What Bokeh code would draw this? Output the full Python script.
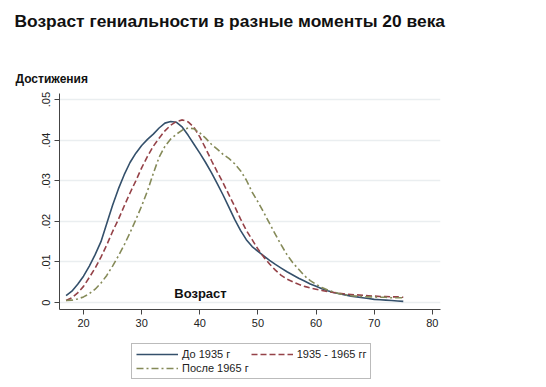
from bokeh.plotting import figure
from bokeh.layouts import column
from bokeh.models import Range1d, FixedTicker, Label, Legend, LegendItem, CustomJSTickFormatter
from bokeh.embed import file_html
from bokeh.resources import INLINE

ages = list(range(17, 76))
before_1935 = [.0017, .0028, .0045, .0065, .0090, .0118, .0150, .0195, .0240, .0280,
               .0315, .0345, .0368, .0387, .0402, .0415, .0430, .0442, .0446, .0444,
               .0432, .0412, .0390, .0368, .0345, .0320, .0293, .0265, .0235, .0205,
               .0178, .0155, .0138, .0126, .0115, .0104, .0094, .0085, .0076, .0068,
               .0060, .0053, .0046, .0040, .0034, .0029, .0025, .0022, .0019, .0016,
               .0014, .0012, .0010, .0008, .0007, .0006, .0005, .0004, .0003]
y1935_1965 = [.0005, .0012, .0024, .0040, .0062, .0085, .0112, .0142, .0175, .0205,
              .0238, .0270, .0300, .0332, .0360, .0385, .0405, .0423, .0437, .0446,
              .0450, .0445, .0432, .0408, .0380, .0350, .0322, .0295, .0266, .0237,
              .0206, .0178, .0155, .0132, .0112, .0095, .0080, .0067, .0058, .0051,
              .0045, .0040, .0036, .0033, .0030, .0027, .0025, .0023, .0021, .0020,
              .0019, .0018, .0017, .0016, .0015, .0015, .0014, .0014, .0013]
after_1965 = [.0005, .0006, .0009, .0014, .0022, .0033, .0048, .0067, .0090, .0115,
              .0142, .0172, .0204, .0238, .0275, .0318, .0358, .0385, .0403, .0415,
              .0425, .0430, .0428, .0418, .0405, .0390, .0378, .0365, .0355, .0342,
              .0325, .0302, .0272, .0248, .0222, .0195, .0168, .0142, .0118, .0098,
              .0082, .0066, .0054, .0045, .0037, .0031, .0026, .0022, .0019, .0017,
              .0016, .0015, .0014, .0014, .0013, .0013, .0012, .0012, .0012]

x_ticks = [20, 30, 40, 50, 60, 70, 80]
y_ticks = [0, 0.01, 0.02, 0.03, 0.04, 0.05]

series_names = ["До 1935 г", "1935 - 1965 гг", "После 1965 г"]
title_text = "Возраст гениальности в разные моменты 20 века"
y_title = "Достижения"
x_title = "Возраст"

FONT = "Liberation Sans"
W = 546
H_TOP, H_MAIN, H_LEG = 86, 249, 52
colors = ["#34506b", "#954248", "#858a58"]
dashes = ["solid", "6 3", "7 3 2 3"]
series = [before_1935, y1935_1965, after_1965]


def blank(height):
    f = figure(width=W, height=height, output_backend="svg", toolbar_location=None,
               x_axis_type=None, y_axis_type=None,
               x_range=Range1d(0, 1), y_range=Range1d(0, 1),
               min_border=0, min_border_left=0, min_border_right=0,
               min_border_top=0, min_border_bottom=0, frame_align=False)
    f.outline_line_color = None
    f.grid.visible = False
    f.background_fill_color = "white"
    f.border_fill_color = "white"
    return f


# ---- titles
top = blank(H_TOP)
top.add_layout(Label(x=14, y=H_TOP - 20, x_units="screen", y_units="screen", text=title_text,
                     text_font=FONT, text_font_size="17.4px", text_font_style="bold",
                     text_baseline="middle", text_color="#111111"))
top.add_layout(Label(x=15, y=H_TOP - 78, x_units="screen", y_units="screen", text=y_title,
                     text_font=FONT, text_font_size="12px", text_font_style="bold",
                     text_baseline="middle", text_color="#111111"))

# ---- main plot
FL, FR, FT, FB = 59, 440, 93 - H_TOP, 309 - H_TOP
p = figure(width=W, height=H_MAIN, output_backend="svg", toolbar_location=None,
           x_range=Range1d(15.87, 81.4), y_range=Range1d(-0.0017, 0.0515),
           min_border_left=FL, min_border_right=W - FR,
           min_border_top=FT, min_border_bottom=H_MAIN - FB, frame_align=False)
p.outline_line_color = None
p.background_fill_color = "white"
p.border_fill_color = "white"
p.xgrid.grid_line_color = None
p.ygrid.grid_line_color = "#eaeef0"
p.ygrid.grid_line_width = 1.5

for ax in (p.xaxis[0], p.yaxis[0]):
    ax.axis_line_color = "#444444"
    ax.major_tick_line_color = "#444444"
    ax.minor_tick_line_color = None
    ax.major_tick_out = 5
    ax.major_tick_in = 0
    ax.major_label_text_font = FONT
    ax.major_label_text_font_size = "11px"
    ax.major_label_text_color = "#222222"

p.xaxis.ticker = FixedTicker(ticks=x_ticks)
p.yaxis.ticker = FixedTicker(ticks=y_ticks)
p.yaxis.major_label_orientation = "vertical"
p.yaxis.formatter = CustomJSTickFormatter(code="""
    if (Math.abs(tick) < 1e-9) return "0";
    return "." + Math.round(tick * 100).toString().padStart(2, "0");
""")
p.xaxis.major_label_standoff = 4
p.yaxis.major_label_standoff = 4

for vals, c, d in zip(series, colors, dashes):
    p.line(ages, vals, line_color=c, line_width=1.6, line_dash=d)

p.add_layout(Label(x=141, y=16, x_units="screen", y_units="screen", text=x_title,
                   text_font=FONT, text_font_size="13px", text_font_style="bold",
                   text_baseline="middle", text_align="center", text_color="#111111"))

# ---- legend strip (lines drawn off-view, only their legend swatches show)
leg = blank(H_LEG)
leg_renderers = []
for vals, c, d in zip(series, colors, dashes):
    leg_renderers.append(leg.line(ages, vals, line_color=c, line_width=1.6, line_dash=d))

legend = Legend(items=[LegendItem(label=n, renderers=[r]) for n, r in zip(series_names, leg_renderers)],
                location=(131, 8), ncols=2, orientation="horizontal")
legend.label_text_font = FONT
legend.label_text_font_size = "11px"
legend.label_text_color = "#222222"
legend.glyph_width = 42
legend.glyph_height = 12
legend.label_standoff = 4
legend.spacing = 2
legend.padding = 4
legend.margin = 0
legend.label_height = 12
legend.border_line_color = "#777777"
legend.border_line_width = 1
legend.background_fill_alpha = 1
leg.add_layout(legend, "center")

layout = column(top, p, leg, spacing=0)
open("out.html", "w").write(file_html(layout, INLINE))
